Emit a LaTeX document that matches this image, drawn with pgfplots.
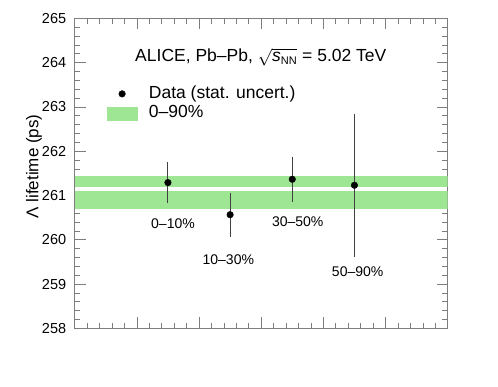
\documentclass[border=0pt]{standalone}
\usepackage{pgfplots}
\pgfplotsset{compat=1.18}
\usepackage{fontspec}
\setmainfont{Liberation Sans}
\definecolor{bandgreen}{RGB}{158,230,148}
\definecolor{framegray}{RGB}{125,125,125}

\begin{document}
\begin{tikzpicture}
    % page = 498 x 387 px, 1px = 1pt
    \path[use as bounding box] (-74.7pt,-58.7pt) rectangle (423.3pt,328.3pt);
    \begin{axis}[
            scale only axis,
            width=373pt, height=310pt,
            at={(0,0)}, anchor=south west,
            xmin=0, xmax=6,
            ymin=258, ymax=265,
            xtick={0,1,2,3,4,5,6},
            xticklabels={},
            ytick={258,259,260,261,262,263,264,265},
            minor tick num=4,
            tick align=inside,
            xtick pos=both, ytick pos=both,
            major tick length=11pt, minor tick length=5.5pt,
            axis line style={framegray},
            tick style={framegray, line width=0.6pt},
            /pgf/number format/assume math mode=true,
            yticklabel style={font=\fontsize{14.5}{14.5}\selectfont, xshift=-5pt},
            ylabel={Λ lifetime (ps)},
            ylabel style={font=\fontsize{17}{17}\selectfont,
                at={(axis description cs:-0.0976,0.522)}, anchor=base},
            legend style={at={(axis cs:0.515,263.49)}, anchor=north west,
                draw=none, fill=none, inner sep=0pt, row sep=2.4pt, column sep=11.6pt,
                font=\fontsize{17.5}{17.5}\selectfont,
                nodes={inner sep=0pt, text height=13pt, text depth=4pt}},
            legend cell align=left,
        ]
        % 0-90% band (two parts, white gap between)
        \addplot[draw=none, fill=bandgreen, forget plot]
            coordinates {(0,261.20) (6,261.20) (6,261.44) (0,261.44)} -- cycle;
        \addplot[draw=none, fill=bandgreen, forget plot]
            coordinates {(0,260.69) (6,260.69) (6,261.11) (0,261.11)} -- cycle;

        % data, stat. uncertainties
        \addplot[black, only marks, mark=*, mark size=3.3pt,
            error bars/.cd, y dir=both, y explicit, error mark=none,
            error bar style={black!75, line width=1pt},
            /pgfplots/legend image code/.code={\fill[black] (15pt,0pt) circle (3.3pt);}]
            coordinates {
                (1.5,261.29) +- (0,0.47)
                (2.5,260.565) +- (0,0.50)
                (3.5,261.365) +- (0,0.51)
                (4.5,261.23) +- (0,1.62)
            };
        \addlegendentry{Data (stat. uncert.)}
        \addlegendimage{legend image code/.code={\fill[bandgreen] (0pt,-6.5pt) rectangle (30pt,6.5pt);}}
        \addlegendentry{0–90\%}

        \node[anchor=base west, font=\fontsize{17.5}{17.5}\selectfont] at (axis cs:0.917,264.02)
            {ALICE, Pb–Pb, $\sqrt{\mbox{\itshape s}_{\mbox{\fontsize{11}{11}\selectfont NN}}}$ = 5.02 TeV};

        \node[anchor=base, font=\fontsize{14}{14}\selectfont] at (axis cs:1.581,260.243) {0–10\%};
        \node[anchor=base, font=\fontsize{14}{14}\selectfont] at (axis cs:2.471,259.43) {10–30\%};
        \node[anchor=base, font=\fontsize{14}{14}\selectfont] at (axis cs:3.587,260.295) {30–50\%};
        \node[anchor=base, font=\fontsize{14}{14}\selectfont] at (axis cs:4.552,259.166) {50–90\%};
    \end{axis}
\end{tikzpicture}
\end{document}
